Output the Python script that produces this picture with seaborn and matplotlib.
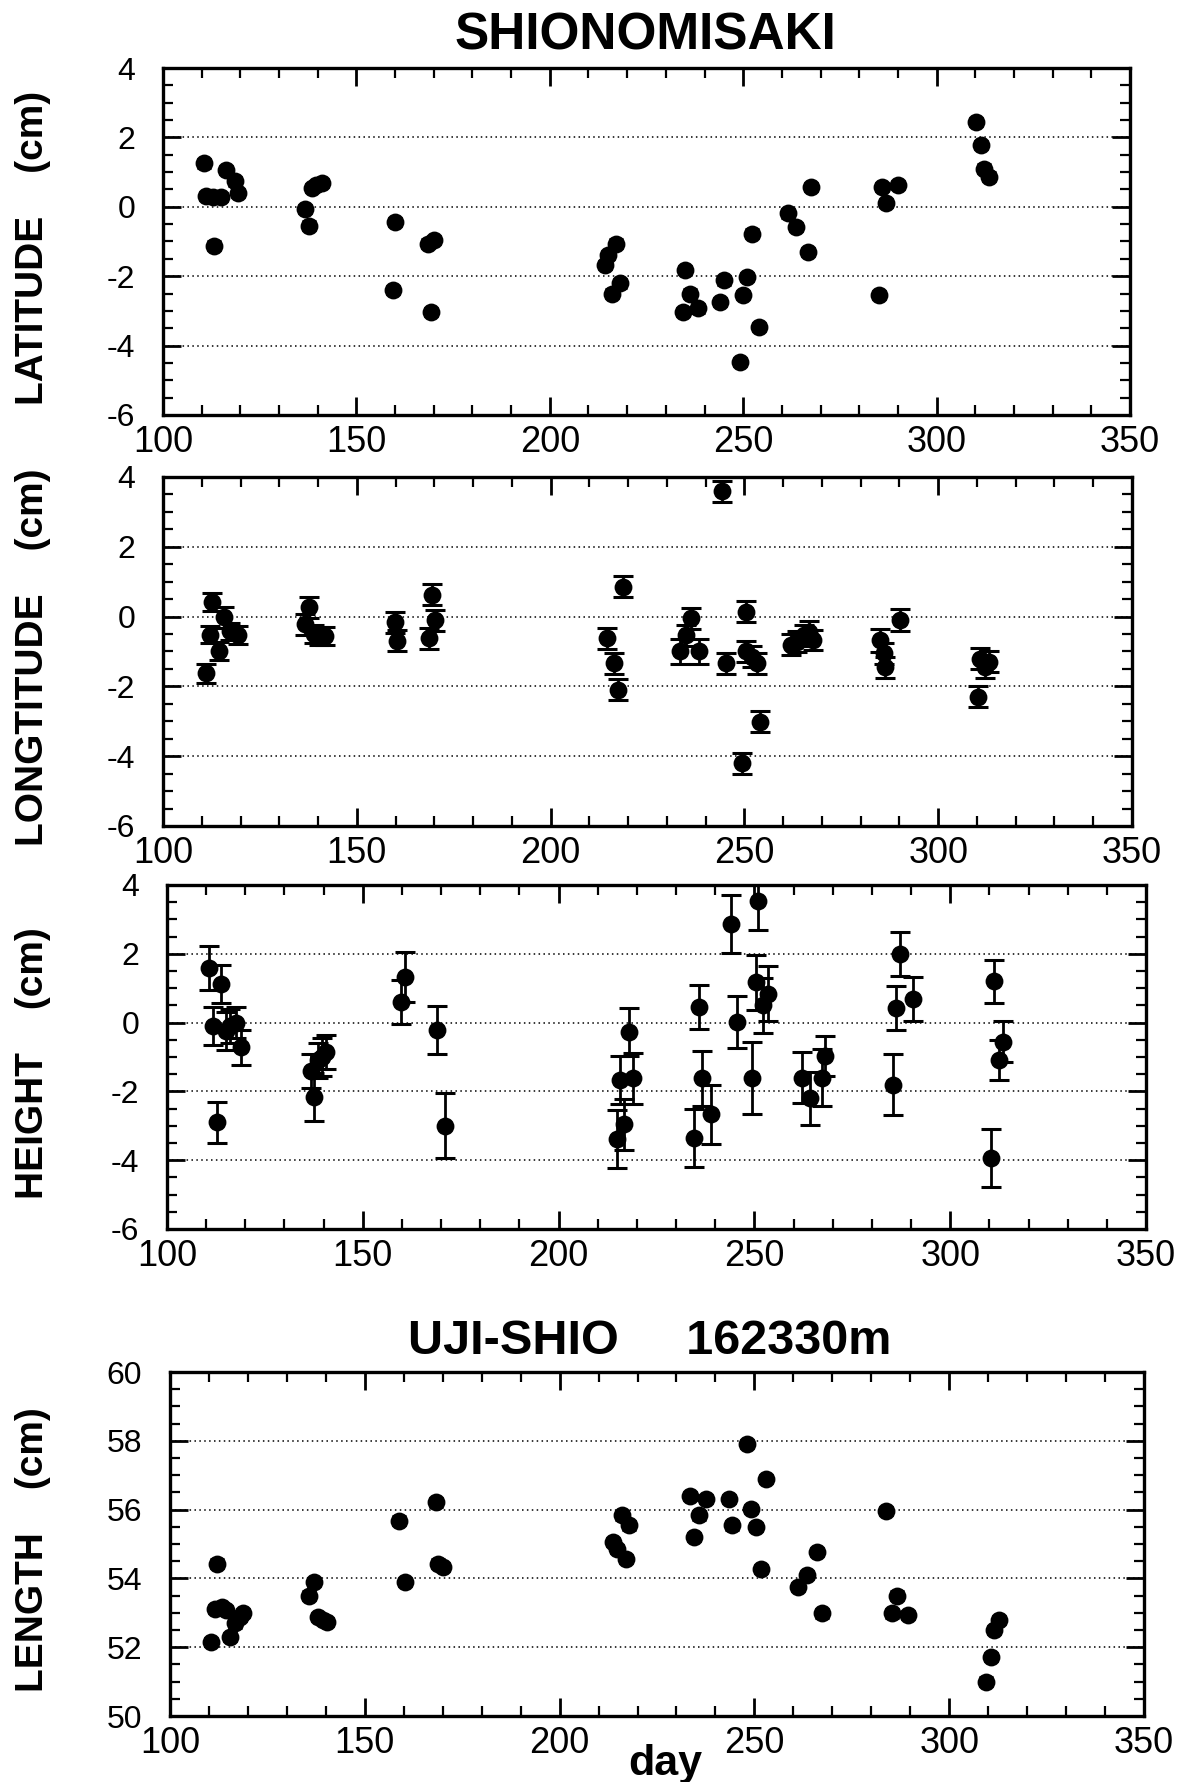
import numpy as np
import pandas as pd
import matplotlib
matplotlib.use("Agg")
import matplotlib.pyplot as plt
from matplotlib.ticker import MultipleLocator
import seaborn as sns

# ---------------- data ----------------
lat_day = [110.7, 111, 113, 115, 113.3, 116.3, 118.5, 119.5,
           136.7, 137.8, 138.5, 139.5, 141,
           160, 159.5,
           168.5, 170.1, 169.2,
           214.3, 215, 217, 216, 218.2,
           234.4, 235, 236.2, 238.2,
           243.9, 245, 249.3, 250, 251.1, 252.3, 254,
           261.5, 263.6, 266.7, 267.6,
           285, 285.9, 287, 290,
           310.3, 311.4, 312.3, 313.5]
lat_val = [1.25, 0.32, 0.28, 0.28, -1.12, 1.07, 0.73, 0.39,
           -0.07, -0.54, 0.55, 0.62, 0.68,
           -0.44, -2.39,
           -1.06, -0.96, -3.03,
           -1.68, -1.39, -1.06, -2.5, -2.21,
           -3.03, -1.83, -2.5, -2.93,
           -2.74, -2.12, -4.47, -2.55, -2.02, -0.77, -3.46,
           -0.19, -0.58, -1.3, 0.58,
           -2.55, 0.58, 0.1, 0.63,
           2.45, 1.78, 1.1, 0.87]
lat_err = [0.12] * len(lat_val)

lon_day = [111, 112, 112.6, 114.5, 115.8, 117.2, 119.3,
           136.6, 137.6, 139, 140.3, 141.8,
           159.8, 160.4,
           168.5, 169.4, 170.3,
           214.6, 216.4, 217.3, 218.6,
           233.5, 235, 236.2, 238.2,
           244.3, 245.2, 249.3, 250.5, 250.5, 252, 253.2, 254.1,
           262, 263.5, 265.5, 266.7, 267.6,
           285, 286, 286.2, 290.1,
           310.3, 310.8, 312, 313]
lon_val = [-1.62, -0.52, 0.42, -0.98, -0.02, -0.42, -0.53,
           -0.22, 0.27, -0.5, -0.55, -0.55,
           -0.16, -0.69,
           -0.62, 0.62, -0.1,
           -0.62, -1.34, -2.1, 0.86,
           -1.0, -0.53, -0.05, -1.0,
           3.59, -1.34, -4.2, 0.14, -1.0, -1.15, -1.34, -3.01,
           -0.8, -0.72, -0.53, -0.43, -0.67,
           -0.68, -1.05, -1.45, -0.1,
           -2.29, -1.21, -1.45, -1.3]
lon_err = [0.27, 0.25, 0.27, 0.25, 0.3, 0.25, 0.25,
           0.3, 0.3, 0.25, 0.25, 0.25,
           0.3, 0.3,
           0.3, 0.3, 0.3,
           0.3, 0.3, 0.3, 0.3,
           0.35, 0.3, 0.3, 0.35,
           0.3, 0.3, 0.3, 0.3, 0.3, 0.3, 0.3, 0.3,
           0.3, 0.3, 0.3, 0.3, 0.3,
           0.33, 0.3, 0.3, 0.32,
           0.31, 0.3, 0.3, 0.3]

hgt_day = [110.8, 111.8, 112.8, 113.8, 115, 116, 117.5, 118.8,
           136.8, 137.6, 138.6, 139.5, 140.6,
           159.8, 160.8,
           168.9, 171,
           215, 215.7, 216.8, 218, 218.9,
           234.5, 235.8, 236.7, 238.8,
           244.1, 245.6, 249.5, 250.5, 250.9, 252.3, 253.5,
           262.1, 264.2, 267.2, 268,
           285.4, 286.1, 287.2, 290.4,
           310.5, 311.2, 312.4, 313.5]
hgt_val = [1.6, -0.1, -2.9, 1.12, -0.25, -0.1, 0.0, -0.72,
           -1.4, -2.17, -1.1, -1.0, -0.85,
           0.6, 1.32,
           -0.22, -3.0,
           -3.39, -1.66, -2.96, -0.27, -1.62,
           -3.35, 0.45, -1.62, -2.67,
           2.86, 0.02, -1.62, 1.17, 3.53, 0.5, 0.84,
           -1.6, -2.2, -1.6, -0.97,
           -1.8, 0.42, 1.99, 0.7,
           -3.93, 1.2, -1.1, -0.55]
hgt_err = [0.64, 0.55, 0.6, 0.55, 0.55, 0.5, 0.45, 0.5,
           0.5, 0.7, 0.5, 0.55, 0.5,
           0.65, 0.72,
           0.7, 0.95,
           0.85, 0.7, 0.75, 0.7, 0.75,
           0.85, 0.65, 0.8, 0.85,
           0.85, 0.75, 1.05, 0.8, 0.85, 0.8, 0.8,
           0.75, 0.77, 0.82, 0.58,
           0.89, 0.63, 0.64, 0.64,
           0.85, 0.63, 0.58, 0.6]

len_day = [110.4, 112.1, 111.5, 113.4, 114.3, 115.5, 116.6, 117.9, 118.8,
           135.7, 137, 138, 139.3, 140.2,
           158.9, 160.4,
           168.4, 168.75, 170,
           213.75, 214.8, 216, 217, 217.9,
           233.4, 234.5, 235.7, 237.5,
           243.4, 244.3, 248.2, 249.1, 250.4, 251.8, 253,
           261.25, 263.4, 266.1, 267.3,
           283.9, 285.4, 286.6, 289.3,
           309.5, 310.7, 311.6, 312.9]
len_val = [52.15, 54.43, 53.1, 53.17, 53.07, 52.3, 52.69, 52.88, 53.0,
           53.5, 53.9, 52.88, 52.78, 52.73,
           55.68, 53.89,
           56.21, 54.43, 54.33,
           55.05, 54.86, 55.83, 54.57, 55.54,
           56.4, 55.2, 55.83, 56.31,
           56.31, 55.54, 57.9, 56.02, 55.49, 54.28, 56.89,
           53.75, 54.09, 54.76, 52.98,
           55.97, 52.98, 53.5, 52.93,
           51.0, 51.72, 52.49, 52.78]
len_err = [0.12] * len(len_val)

panel_labels = ["LATITUDE    (cm)", "LONGTITUDE    (cm)", "HEIGHT    (cm)", "LENGTH    (cm)"]
title_top = "SHIONOMISAKI"
title_bottom = "UJI-SHIO     162330m"
xlabel = "day"

# ---------------- style ----------------
sns.set_style("ticks")
plt.rcParams["font.family"] = ["Liberation Sans", "DejaVu Sans"]
plt.rcParams["axes.unicode_minus"] = False
for k in ["text.color", "axes.labelcolor", "xtick.color", "ytick.color", "axes.edgecolor"]:
    plt.rcParams[k] = "black"

W, H = 1187, 1782
fig = plt.figure(figsize=(W / 100, H / 100), dpi=100)

# (left, top, right, bottom) in pixels
boxes = [(163, 68, 1130, 415),
         (163, 477, 1132, 826),
         (167, 885, 1146, 1229),
         (170, 1372, 1144, 1716)]

datasets = [(lat_day, lat_val, lat_err, (-6, 4), 5),
            (lon_day, lon_val, lon_err, (-6, 4), 7),
            (hgt_day, hgt_val, hgt_err, (-6, 4), 7),
            (len_day, len_val, len_err, (50, 60), 5)]

for i, ((L, T, R, B), (dx, dy, de, ylim, cap)) in enumerate(zip(boxes, datasets)):
    ax = fig.add_axes([L / W, 1 - B / H, (R - L) / W, (B - T) / H])
    df = pd.DataFrame({"day": dx, "val": dy, "err": de})
    ax.errorbar(df["day"], df["val"], yerr=df["err"], fmt="none", ecolor="black",
                elinewidth=2.0, capsize=cap, capthick=2.2, zorder=2)
    sns.scatterplot(data=df, x="day", y="val", ax=ax, color="black", s=165,
                    edgecolor="black", linewidth=0, zorder=3, legend=False)
    ax.set_xlim(100, 350)
    ax.set_ylim(*ylim)
    ax.xaxis.set_major_locator(MultipleLocator(50))
    ax.xaxis.set_minor_locator(MultipleLocator(10))
    ax.yaxis.set_major_locator(MultipleLocator(2))
    ax.yaxis.set_minor_locator(MultipleLocator(0.5))
    ax.yaxis.grid(True, which="major", linestyle=(0, (1, 2.2)), linewidth=1.1, color="black")
    ax.xaxis.grid(False)
    ax.tick_params(which="both", direction="in", top=True, right=True, colors="black")
    ax.tick_params(which="major", length=13, width=2.0)
    ax.tick_params(which="minor", length=7, width=1.6)
    ax.tick_params(axis="x", which="major", labelsize=26, pad=7)
    ax.tick_params(axis="y", which="major", labelsize=23, pad=20)
    for sp in ax.spines.values():
        sp.set_linewidth(2.4)
        sp.set_color("black")
    ax.set_xlabel("")
    ax.set_ylabel("")
    fig.text(33 / W, 1 - ((T + B) / 2 + 6) / H, panel_labels[i], rotation=90,
             ha="center", va="center", fontsize=28, fontweight="bold")

fig.text(645 / W, 1 - 36 / H, title_top, ha="center", va="center", fontsize=37, fontweight="bold")
fig.text(650 / W, 1 - 1342 / H, title_bottom, ha="center", va="center", fontsize=35, fontweight="bold")
fig.text(665 / W, 1 - 1764 / H, xlabel, ha="center", va="center", fontsize=31, fontweight="bold")

fig.savefig("out.png", dpi=100, facecolor="white")
